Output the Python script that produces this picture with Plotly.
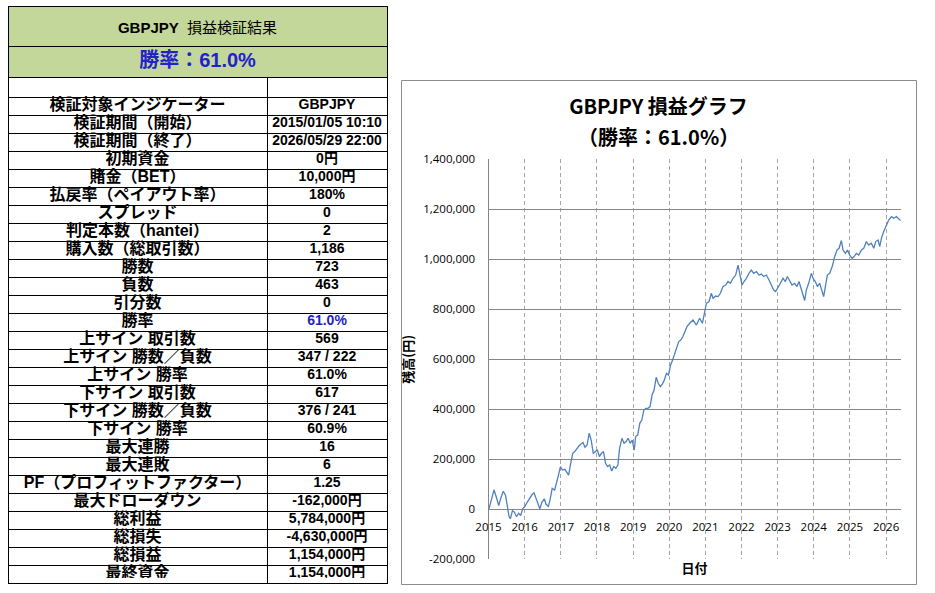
import plotly.graph_objects as go
import pandas as pd

W, H = 935, 593

# ---------------- table data ----------------
table_title = "<b>GBPJPY</b>  損益検証結果"
table_rate = "勝率：61.0%"
row_labels = [
    "検証対象インジケーター", "検証期間（開始）", "検証期間（終了）", "初期資金",
    "賭金（BET）", "払戻率（ペイアウト率）", "スプレッド", "判定本数（hantei）",
    "購入数（総取引数）", "勝数", "負数", "引分数", "勝率",
    "上サイン 取引数", "上サイン 勝数／負数", "上サイン 勝率",
    "下サイン 取引数", "下サイン 勝数／負数", "下サイン 勝率",
    "最大連勝", "最大連敗", "PF（プロフィットファクター）", "最大ドローダウン",
    "総利益", "総損失", "総損益", "最終資金",
]
row_values = [
    "GBPJPY", "2015/01/05\u00a010:10", "2026/05/29\u00a022:00", "0円",
    "10,000円", "180%", "0", "2",
    "1,186", "723", "463", "0", "61.0%",
    "569", "347 / 222", "61.0%",
    "617", "376 / 241", "60.9%",
    "16", "6", "1.25", "-162,000円",
    "5,784,000円", "-4,630,000円", "1,154,000円", "1,154,000円",
]
highlight_label = "勝率"

# ---------------- chart data ----------------
# time as decimal year, balance in yen
t_year = [
    2015.010, 2015.076, 2015.152, 2015.218, 2015.284, 2015.341, 2015.410, 2015.473,
    2015.530, 2015.568, 2015.606, 2015.663, 2015.720, 2015.777, 2015.833, 2015.890,
    2015.947, 2016.004, 2016.070, 2016.136, 2016.212, 2016.260, 2016.326, 2016.383,
    2016.420, 2016.477, 2016.544, 2016.591, 2016.657, 2016.705, 2016.761, 2016.828,
    2016.875, 2016.932, 2016.989,
    2017.045, 2017.112, 2017.159, 2017.216, 2017.273, 2017.330, 2017.386, 2017.443,
    2017.500, 2017.557, 2017.614, 2017.670, 2017.727, 2017.784, 2017.841, 2017.898,
    2017.955, 2018.011, 2018.068, 2018.125, 2018.182, 2018.239, 2018.295, 2018.352,
    2018.409, 2018.466, 2018.523, 2018.580, 2018.627, 2018.693, 2018.750, 2018.807,
    2018.864, 2018.920, 2018.977, 2019.034, 2019.072, 2019.129, 2019.186, 2019.242,
    2019.299, 2019.356, 2019.413, 2019.470, 2019.527, 2019.583, 2019.640, 2019.697,
    2019.754, 2019.811, 2019.867, 2019.924, 2019.981, 2020.038, 2020.095, 2020.152,
    2020.208, 2020.265, 2020.322, 2020.379, 2020.436, 2020.492,
    2020.566, 2020.659, 2020.751, 2020.843, 2020.917, 2020.982, 2021.028, 2021.101,
    2021.166, 2021.212, 2021.286, 2021.351, 2021.415, 2021.489, 2021.563, 2021.627,
    2021.692, 2021.766, 2021.839, 2021.904, 2021.950, 2022.015, 2022.070, 2022.135,
    2022.208, 2022.273, 2022.338, 2022.411, 2022.485, 2022.550, 2022.614, 2022.688,
    2022.762, 2022.827, 2022.891, 2022.946, 2023.011, 2023.076, 2023.149, 2023.214,
    2023.269, 2023.334, 2023.399, 2023.472, 2023.537, 2023.592, 2023.657, 2023.703,
    2023.749, 2023.795, 2023.860, 2023.934, 2023.980, 2024.044, 2024.100, 2024.164,
    2024.229, 2024.275, 2024.321, 2024.376, 2024.441, 2024.515, 2024.579, 2024.644,
    2024.699, 2024.764, 2024.810, 2024.875, 2024.930, 2024.994, 2025.059, 2025.114,
    2025.179, 2025.244, 2025.317, 2025.382, 2025.456, 2025.520, 2025.594, 2025.659,
    2025.714, 2025.779, 2025.825, 2025.871, 2025.935, 2026.009, 2026.074, 2026.148,
    2026.212, 2026.286, 2026.351, 2026.410,
]
balance = [
    0, 40000, 78000, 48000, 15000, 45000, 72000, 55000,
    5000, -28000, -38000, -5000, -12000, -30000, -16000, -25000,
    2000, 11000, 28000, 45000, 60000, 66000, 42000, 18000,
    2000, 28000, 42000, 20000, 12000, 40000, 84000, 77000,
    100000, 135000, 171000,
    157000, 160000, 151000, 137000, 184000, 224000, 231000, 244000,
    253000, 261000, 267000, 248000, 257000, 304000, 277000, 224000,
    231000, 237000, 211000, 224000, 231000, 184000, 171000, 177000,
    153000, 171000, 164000, 177000, 244000, 284000, 264000, 271000,
    284000, 264000, 277000, 237000, 291000, 297000, 344000, 357000,
    397000, 404000, 404000, 411000, 457000, 477000, 528000, 504000,
    491000, 501000, 517000, 544000, 537000, 577000, 597000, 624000,
    651000, 671000, 677000, 691000, 711000, 731000,
    744000, 757000, 737000, 764000, 744000, 784000, 824000, 831000,
    864000, 844000, 853000, 851000, 864000, 891000, 897000, 911000,
    904000, 924000, 937000, 977000, 937000, 897000, 911000, 924000,
    944000, 957000, 944000, 951000, 937000, 941000, 931000, 937000,
    917000, 897000, 877000, 871000, 891000, 904000, 924000, 911000,
    931000, 911000, 897000, 904000, 891000, 911000, 877000, 851000,
    835000, 877000, 904000, 944000, 924000, 911000, 891000, 904000,
    877000, 851000, 891000, 937000, 944000, 973000, 1011000, 1037000,
    1044000, 1075000, 1037000, 1024000, 1037000, 1017000, 1004000, 1011000,
    1024000, 1017000, 1037000, 1044000, 1071000, 1057000, 1064000, 1044000,
    1071000, 1077000, 1051000, 1084000, 1111000, 1137000, 1157000, 1171000,
    1164000, 1171000, 1164000, 1154000,
]
x_start, x_end = "2015-01-01", "2026-05-29"
year_ticks = list(range(2015, 2027))
y_ticks = [-200000, 0, 200000, 400000, 600000, 800000, 1000000, 1200000, 1400000]
y_tick_labels = ["-200,000", "0", "200,000", "400,000", "600,000",
                 "800,000", "1,000,000", "1,200,000", "1,400,000"]
chart_title = "GBPJPY 損益グラフ"
chart_subtitle = "（勝率：61.0%）"


def year_to_date(y):
    y0 = int(y)
    a = pd.Timestamp(year=y0, month=1, day=1)
    b = pd.Timestamp(year=y0 + 1, month=1, day=1)
    return a + (b - a) * (y - y0)


dates = [year_to_date(v) for v in t_year]
year_dates = [pd.Timestamp(year=y, month=1, day=1) for y in year_ticks]


# ---------------- layout helpers ----------------
def px(x):
    return x / W


def py(y):
    return 1 - y / H


GREEN = "#C4D79B"
BLUE = "#2222CC"
JP = "Liberation Sans, Noto Sans CJK JP"
NONE = "rgba(0,0,0,0)"
TX0, TX1 = 8, 387            # table left / right (px)
T_TOP, T_MID, T_HDR, T_BOT = 6, 46, 77, 583
COLW = [259, 120]
n = len(row_labels)

fig = go.Figure()

# --- table grids (fills + borders) ---
fig.add_trace(go.Table(
    domain=dict(x=[px(TX0), px(TX1)], y=[py(T_HDR + 2), py(T_TOP)]),
    header=dict(values=[""], height=T_MID - T_TOP, fill_color=GREEN,
                line=dict(color="black", width=1)),
    cells=dict(values=[[""]], height=T_HDR - T_MID, fill_color=GREEN,
               line=dict(color="black", width=1)),
))
fig.add_trace(go.Table(
    domain=dict(x=[px(TX0), px(TX1)], y=[py(T_BOT + 3), py(T_HDR)]),
    columnwidth=COLW,
    header=dict(values=["", ""], height=20, fill_color="white",
                line=dict(color="black", width=1)),
    cells=dict(values=[[""] * n, [""] * n], height=18, fill_color="white",
               line=dict(color="black", width=1)),
))

# --- table texts (transparent tables, vertically tuned) ---
fig.add_trace(go.Table(
    domain=dict(x=[px(TX0), px(TX1)], y=[py(T_MID + 4.5 + 2), py(T_TOP + 4.5)]),
    header=dict(values=[table_title], height=T_MID - T_TOP, fill_color=NONE,
                line=dict(color=NONE, width=0), align="center",
                font=dict(family=JP, size=15, color="black")),
    cells=dict(values=[[]], fill_color=NONE, line=dict(color=NONE, width=0)),
))
fig.add_trace(go.Table(
    domain=dict(x=[px(TX0), px(TX1)], y=[py(T_HDR - 2.5 + 2), py(T_MID - 2.5)]),
    header=dict(values=[table_rate], height=T_HDR - T_MID, fill_color=NONE,
                line=dict(color=NONE, width=0), align="center",
                font=dict(family=JP, size=20, color=BLUE, weight="bold")),
    cells=dict(values=[[]], fill_color=NONE, line=dict(color=NONE, width=0)),
))
value_colors = [BLUE if lab == highlight_label else "black" for lab in row_labels]
fig.add_trace(go.Table(
    domain=dict(x=[px(TX0), px(TX1)], y=[py(T_BOT - 7 + 3), py(T_HDR - 7)]),
    columnwidth=COLW,
    header=dict(values=["", ""], height=20, fill_color=NONE,
                line=dict(color=NONE, width=0)),
    cells=dict(values=[row_labels, row_values], height=18, fill_color=NONE,
               line=dict(color=NONE, width=0), align="center",
               font=dict(family=[JP, JP], size=[16, 14],
                         color=[["black"] * n, value_colors],
                         weight="bold")),
))

# --- equity curve ---
fig.add_trace(go.Scatter(
    x=dates, y=balance, mode="lines",
    line=dict(color="#4F81BD", width=1.3),
    showlegend=False, hoverinfo="x+y",
))

fig.update_layout(
    width=W, height=H, autosize=False,
    margin=dict(l=0, r=0, t=0, b=0, pad=0, autoexpand=False),
    paper_bgcolor="white", plot_bgcolor="white",
    showlegend=False,
    title=dict(text=chart_title, automargin=False,
               x=px(658.5), xanchor="center", xref="paper",
               y=py(107), yanchor="middle", yref="paper",
               font=dict(family="Noto Sans CJK JP", size=20, color="black", weight="bold")),
    annotations=[dict(text=chart_subtitle, x=px(658.5), y=py(137),
                      xref="paper", yref="paper", xanchor="center", yanchor="middle",
                      showarrow=False,
                      font=dict(family="Noto Sans CJK JP", size=20, color="black", weight="bold"))],
    xaxis=dict(
        domain=[px(488.5), px(900.7)], automargin=False,
        type="date", range=[x_start, x_end],
        tickvals=year_dates, ticktext=[str(y) for y in year_ticks],
        showgrid=True, gridcolor="#A6A6A6", griddash="4px,3px", gridwidth=1,
        zeroline=False, showline=False, ticks="",
        anchor="free", position=py(509.3),
        ticklabelstandoff=9,
        tickfont=dict(family="Open Sans", size=11.5, color="black"),
        title=dict(text="日付", standoff=31,
                   font=dict(family="Noto Sans CJK JP", size=13, color="black", weight="bold")),
    ),
    yaxis=dict(
        domain=[py(559.3), py(159.3)], automargin=False,
        range=[-200000, 1400000],
        tickvals=y_ticks, ticktext=y_tick_labels,
        showgrid=True, gridcolor="#868686", gridwidth=1,
        zeroline=False, showline=True, linecolor="#868686", linewidth=1,
        ticks="", ticklabelstandoff=10,
        tickfont=dict(family="Open Sans", size=11.5, color="black"),
        title=dict(text="残高(円)", standoff=6,
                   font=dict(family="Noto Sans CJK JP", size=13, color="black", weight="bold")),
    ),
    shapes=[dict(type="rect", xref="paper", yref="paper",
                 x0=px(401.5), x1=px(916.5), y0=py(584.5), y1=py(80.5),
                 line=dict(color="#8C8C8C", width=1), layer="below")],
)

fig.write_html("out.html", config={"displayModeBar": False},
               post_script="document.body.style.margin='0';document.body.style.padding='0';")
